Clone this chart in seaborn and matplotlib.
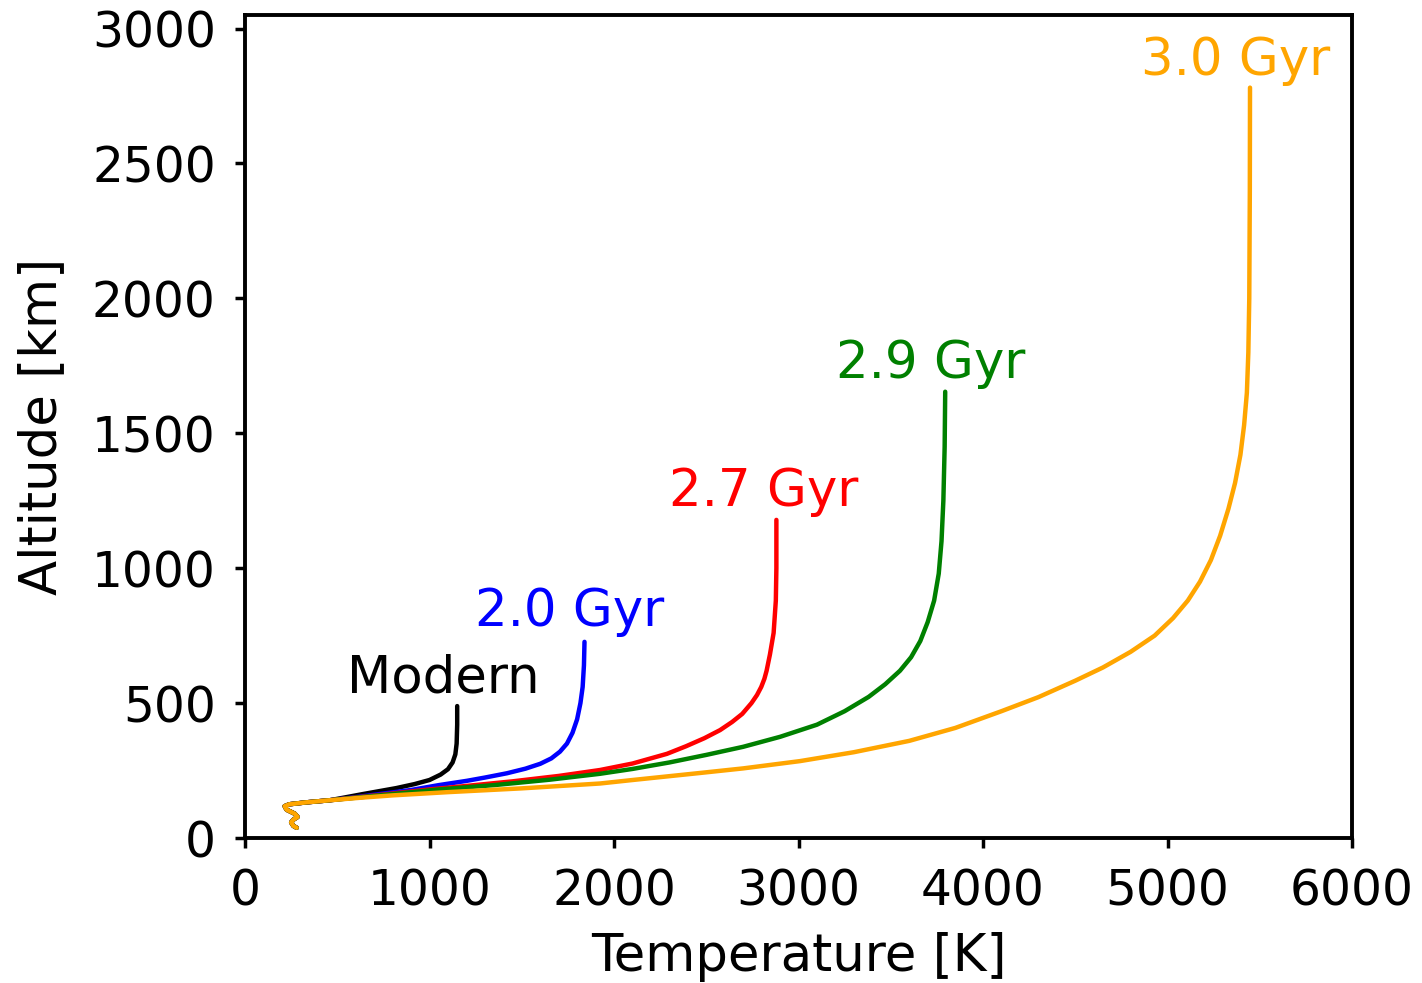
import matplotlib
matplotlib.use("Agg")
import matplotlib.pyplot as plt
import numpy as np
import pandas as pd
import seaborn as sns

# Thermospheric temperature profiles (temperature in K, altitude in km)
base_T = [280, 262, 250, 262, 285, 270, 225, 215, 240, 330, 460]
base_z = [38, 45, 58, 68, 78, 90, 105, 118, 125, 132, 140]

modern_T = [640, 820, 920, 1000, 1060, 1100, 1125, 1140, 1147, 1150, 1150]
modern_z = [163, 185, 200, 215, 235, 255, 280, 310, 350, 420, 489]

gyr20_T = [640, 900, 1050, 1203, 1300, 1420, 1520, 1600, 1660, 1707, 1745,
           1775, 1800, 1818, 1830, 1837, 1840]
gyr20_z = [155, 178, 196, 212, 224, 240, 257, 275, 295, 320, 350,
           390, 440, 500, 560, 640, 727]

gyr27_T = [640, 1000, 1200, 1450, 1700, 1924, 2100, 2287, 2390, 2490, 2575,
           2640, 2695, 2745, 2775, 2798, 2815, 2827, 2845, 2865, 2877, 2880, 2880]
gyr27_z = [153, 180, 193, 210, 230, 252, 276, 312, 340, 370, 400,
           430, 460, 500, 530, 560, 590, 620, 680, 760, 880, 1000, 1179]

gyr29_T = [640, 1050, 1350, 1650, 1924, 2100, 2300, 2500, 2700, 2900, 3100,
           3250, 3380, 3470, 3550, 3610, 3660, 3700, 3735, 3760, 3775, 3785,
           3792, 3795]
gyr29_z = [152, 180, 196, 216, 238, 256, 280, 308, 338, 375, 420,
           470, 523, 570, 620, 670, 730, 800, 880, 980, 1100, 1250,
           1450, 1654]

gyr30_T = [640, 800, 1100, 1500, 1924, 2087, 2466, 2700, 3008, 3300, 3600,
           3850, 4100, 4300, 4500, 4650, 4800, 4930, 5030, 5110, 5176, 5235,
           5285, 5330, 5366, 5395, 5415, 5430, 5438, 5443, 5446, 5447]
gyr30_z = [150, 158, 170, 184, 202, 214, 241, 258, 285, 318, 360,
           408, 470, 522, 583, 632, 690, 750, 815, 880, 950, 1030,
           1120, 1220, 1316, 1420, 1530, 1650, 1800, 2000, 2400, 2781]

series_names = ["Modern", "2.0 Gyr", "2.7 Gyr", "2.9 Gyr", "3.0 Gyr"]
series_colors = ["black", "blue", "red", "green", "orange"]
series_T = [modern_T, gyr20_T, gyr27_T, gyr29_T, gyr30_T]
series_z = [modern_z, gyr20_z, gyr27_z, gyr29_z, gyr30_z]

# label anchor (temperature, altitude of text baseline)
label_T = [1073, 1762, 2813, 3718, 5371]
label_z = [541, 786, 1231, 1706, 2829]

rows = []
for name, T, z in zip(series_names, series_T, series_z):
    for i, (t, a) in enumerate(zip(base_T + T, base_z + z)):
        rows.append({"series": name, "order": i, "T": t, "alt": a})
df = pd.DataFrame(rows)

sns.set_style("ticks")
plt.rcParams["font.family"] = ["DejaVu Sans"]

fig = plt.figure(figsize=(14.22, 9.83), dpi=100)
ax = fig.add_axes([0.1723, 0.1475, 0.9508 - 0.1723, 0.9847 - 0.1475])

sns.lineplot(data=df, x="T", y="alt", hue="series", hue_order=series_names,
             palette=series_colors, sort=False, estimator=None, units="series",
             linewidth=3.2, ax=ax, legend=False)

for name, col, tx, tz in zip(series_names, series_colors, label_T, label_z):
    ax.text(tx, tz, name, color=col, fontsize=37, ha="center", va="baseline")

ax.set_xlim(0, 6000)
ax.set_ylim(0, 3050)
ax.set_xticks([0, 1000, 2000, 3000, 4000, 5000, 6000])
ax.set_yticks([0, 500, 1000, 1500, 2000, 2500, 3000])
ax.set_xlabel("Temperature [K]", fontsize=37, labelpad=12, color="black")
ax.set_ylabel("Altitude [km]", fontsize=37, labelpad=18, color="black")
ax.tick_params(axis="both", direction="out", length=7, width=2.5,
               labelsize=35, pad=14, color="black", labelcolor="black")
for sp in ax.spines.values():
    sp.set_visible(True)
    sp.set_linewidth(2.8)
    sp.set_color("black")

fig.savefig("out.png", dpi=100)
